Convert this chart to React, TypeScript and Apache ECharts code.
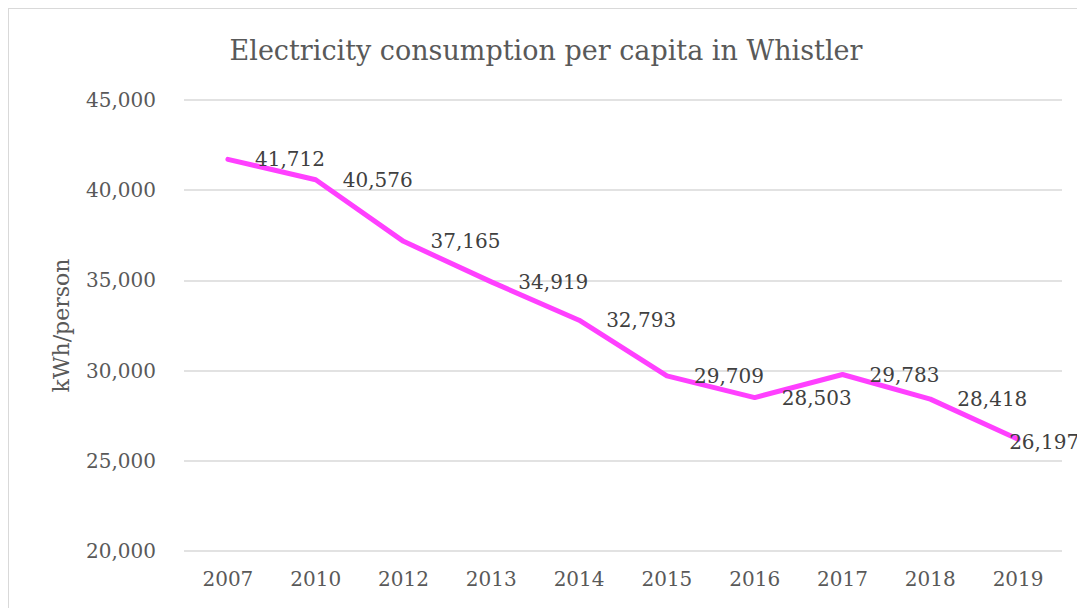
import React, { useEffect, useRef } from "react";
import * as echarts from "echarts";

const years = ["2007", "2010", "2012", "2013", "2014", "2015", "2016", "2017", "2018", "2019"];
const consumption = [41712, 40576, 37165, 34919, 32793, 29709, 28503, 29783, 28418, 26197];
const yTicks = { min: 20000, max: 45000, interval: 5000 };

const FONT = "DejaVu Serif";

export default function App() {
  const ref = useRef<HTMLDivElement>(null);
  useEffect(() => {
    if (!ref.current) return;
    const chart = echarts.init(ref.current, null, { renderer: "svg" });
    const fmt = (v: number) => v.toLocaleString("en-US");
    chart.setOption({
      animation: false,
      backgroundColor: "#ffffff",
      title: {
        text: "Electricity consumption per capita in Whistler",
        left: "center",
        top: 23,
        textStyle: { fontFamily: FONT, fontSize: 27, fontWeight: "normal", color: "#595959" },
      },
      grid: { left: 175, right: 21, top: 91, bottom: 58 },
      xAxis: {
        type: "category",
        data: years,
        boundaryGap: true,
        axisLine: { show: false },
        axisTick: { show: false },
        axisLabel: { fontFamily: FONT, fontSize: 20, color: "#595959", margin: 18 },
      },
      yAxis: {
        type: "value",
        min: yTicks.min,
        max: yTicks.max,
        interval: yTicks.interval,
        name: "kWh/person",
        nameLocation: "middle",
        nameGap: 112,
        nameRotate: 90,
        nameTextStyle: { fontFamily: FONT, fontSize: 22, color: "#595959" },
        axisLine: { show: false },
        axisTick: { show: false },
        splitLine: { lineStyle: { color: "#d9d9d9", width: 1.5 } },
        axisLabel: {
          fontFamily: FONT,
          fontSize: 20,
          color: "#595959",
          margin: 28,
          formatter: (v: number) => fmt(v),
        },
      },
      series: [
        {
          type: "line",
          data: consumption.map((v, i) =>
            i === consumption.length - 1
              ? { value: v, label: { offset: [-36, 3] } }
              : { value: v }
          ),
          symbol: "circle",
          symbolSize: 0.1,
          showSymbol: true,
          lineStyle: { color: "#FF40FF", width: 5, cap: "round", join: "round" },
          itemStyle: { color: "#FF40FF" },
          label: {
            show: true,
            position: "right",
            distance: 27,
            fontFamily: FONT,
            fontSize: 20,
            color: "#404040",
            formatter: (p: any) => fmt(p.value),
          },
        },
      ],
    });
    return () => chart.dispose();
  }, []);
  return (
    <div
      style={{
        width: 1074,
        height: 620,
        border: "1px solid #d9d9d9",
        background: "#fff",
      }}
    >
      <div ref={ref} style={{ width: 1074, height: 600 }} />
    </div>
  );
}
